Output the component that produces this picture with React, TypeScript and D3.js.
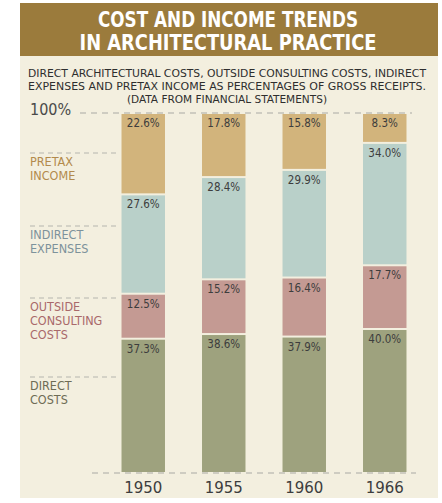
import React from "react";
import * as d3 from "d3";

const years = ["1950", "1955", "1960", "1966"];
const directCosts = [37.3, 38.6, 37.9, 40.0];
const outsideConsulting = [12.5, 15.2, 16.4, 17.7];
const indirectExpenses = [27.6, 28.4, 29.9, 34.0];
const pretaxIncome = [22.6, 17.8, 15.8, 8.3];
const seriesKeys = ["direct", "outside", "indirect", "pretax"];
const seriesLabels = [["DIRECT", "COSTS"], ["OUTSIDE", "CONSULTING", "COSTS"], ["INDIRECT", "EXPENSES"], ["PRETAX", "INCOME"]];
const titleLines = ["COST AND INCOME TRENDS", "IN ARCHITECTURAL PRACTICE"];
const subtitleLines = [
  "DIRECT ARCHITECTURAL COSTS, OUTSIDE CONSULTING COSTS, INDIRECT",
  "EXPENSES AND PRETAX INCOME AS PERCENTAGES OF GROSS RECEIPTS.",
  "(DATA FROM FINANCIAL STATEMENTS)",
];

const colors: Record<string, string> = {
  direct: "#9ea27e",
  outside: "#c49a93",
  indirect: "#b9d0c9",
  pretax: "#d2b47c",
};
const labelColors: Record<string, string> = {
  direct: "#6e6c55",
  outside: "#a9696a",
  indirect: "#7d929b",
  pretax: "#b28a4c",
};
// vertical layout positions of the left-side category labels (dash line y)
const labelDashY: Record<string, number> = { pretax: 153, indirect: 226, outside: 298, direct: 377 };

export default function App() {
  const W = 442, H = 503;
  const rows = years.map((y, i) => ({
    year: y,
    direct: directCosts[i],
    outside: outsideConsulting[i],
    indirect: indirectExpenses[i],
    pretax: pretaxIncome[i],
  }));
  const stack = d3.stack<any>().keys(seriesKeys);
  const stacked = stack(rows);
  const x = d3.scaleBand().domain(years).range([103, 425]).paddingInner(0.46).paddingOuter(0.23);
  const y = d3.scaleLinear().domain([0, 100]).range([473, 113]);
  const font = "'Liberation Sans Narrow', 'DejaVu Sans Condensed', 'Liberation Sans', Arial, sans-serif";

  return (
    <svg width={W} height={H} style={{ position: "absolute", left: 0, top: 0 }}>
      <rect x={0} y={0} width={W} height={H} fill="#ffffff" />
      <rect x={20} y={3} width={418} height={495} fill="#f3efdf" />
      <rect x={20} y={3} width={418} height={53} fill="#9b7b3c" />
      {titleLines.map((t, i) => (
        <text key={t} x={228} y={27 + i * 23} textAnchor="middle" fill="#ffffff"
          fontFamily="'DejaVu Sans Condensed', 'Liberation Sans Narrow', sans-serif" fontWeight="bold" fontSize={21}
          textLength={i === 0 ? 260 : 297} lengthAdjust="spacingAndGlyphs">{t}</text>
      ))}
      {subtitleLines.map((t, i) => (
        <text key={t} x={227} y={77 + i * 13} textAnchor="middle" fill="#2e2e2e"
          fontFamily={font} fontSize={11}
          textLength={i === 2 ? 200 : 398} lengthAdjust="spacingAndGlyphs">{t}</text>
      ))}
      {/* top & bottom dashed reference lines */}
      <line x1={80} x2={412} y1={y(100)} y2={y(100)} stroke="#a9a9a4" strokeWidth={1} strokeDasharray="6,5" />
      <line x1={92} x2={416} y1={y(0)} y2={y(0)} stroke="#a9a9a4" strokeWidth={1} strokeDasharray="6,5" />
      <text x={30} y={y(100) + 2} fill="#4a4a4a" fontFamily={font} fontSize={16}>100%</text>
      {/* category labels */}
      {seriesKeys.map((k, si) => (
        <g key={k}>
          <line x1={30} x2={120} y1={labelDashY[k]} y2={labelDashY[k]} stroke="#b5b5ae" strokeDasharray="5,4" />
          {seriesLabels[si].map((ln, li) => (
            <text key={ln} x={30} y={labelDashY[k] + 13 + li * 14} fill={labelColors[k]}
              fontFamily={font} fontSize={12.5}>{ln}</text>
          ))}
        </g>
      ))}
      {/* bars */}
      {stacked.map((s) => (
        <g key={s.key}>
          {s.map((d, i) => {
            const x0 = x(years[i])!;
            const top = y(d[1]);
            const bot = y(d[0]);
            const val = d[1] - d[0];
            return (
              <g key={i}>
                <rect x={x0} y={top + 1} width={x.bandwidth()} height={Math.max(0, bot - top - 2)} fill={colors[s.key]} />
                <text x={x0 + x.bandwidth() / 2} y={top + 14} textAnchor="middle" fill="#3d3d3d"
                  fontFamily={font} fontSize={11.5}>{val.toFixed(1)}%</text>
              </g>
            );
          })}
        </g>
      ))}
      {years.map((yr) => (
        <text key={yr} x={x(yr)! + x.bandwidth() / 2} y={493} textAnchor="middle" fill="#3d3d3d"
          fontFamily="'DejaVu Sans', sans-serif" fontSize={15}>{yr}</text>
      ))}
    </svg>
  );
}
